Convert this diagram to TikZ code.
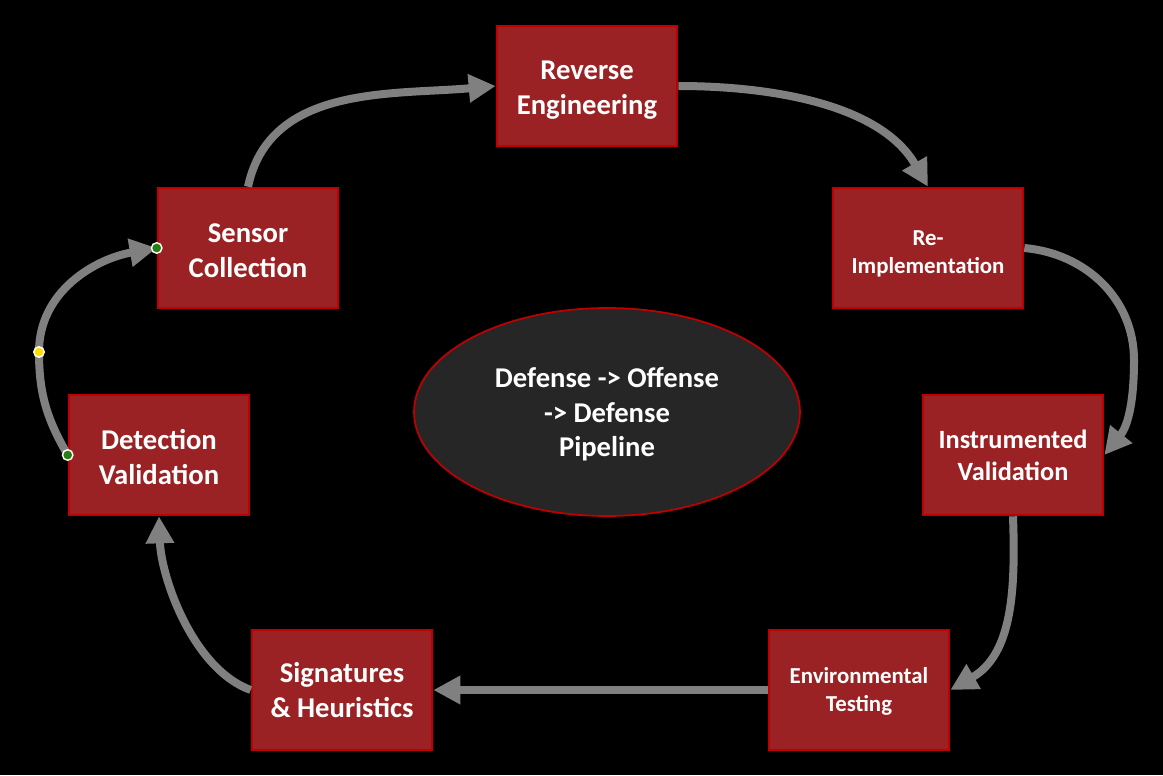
\documentclass[tikz,border=0pt]{standalone}
\usepackage{fontspec}
\setmainfont{Carlito}
\usetikzlibrary{arrows.meta,shapes.geometric}

\definecolor{boxred}{RGB}{155,34,36}
\definecolor{edgered}{RGB}{192,0,0}
\definecolor{flowgray}{RGB}{128,128,128}
\definecolor{pipegray}{RGB}{38,38,38}
\definecolor{handlegreen}{RGB}{40,125,20}
\definecolor{handleyellow}{RGB}{255,221,0}

\begin{document}
\begin{tikzpicture}[
  x=0.02cm, y=0.02cm,
  stage/.style={draw=edgered, fill=boxred, line width=1.5pt, rectangle,
                minimum width=3.6cm, minimum height=2.4cm, align=center,
                text=white, inner sep=2pt,
                font=\fontsize{16.3}{19.8}\selectfont\bfseries},
  midtxt/.style={font=\fontsize{15}{18.1}\selectfont\bfseries},
  smalltxt/.style={font=\fontsize{13}{15.9}\selectfont\bfseries},
  pipe/.style={ellipse, draw=edgered, fill=pipegray, line width=1pt,
               minimum width=7.72cm, minimum height=4.16cm, align=center,
               text=white, font=\fontsize{16.3}{19.8}\selectfont\bfseries},
  flow/.style={-{Triangle[length=0.54cm,width=0.54cm]}, draw=flowgray,
               line width=0.16cm},
  handle/.style={circle, draw=white, line width=0.8pt, inner sep=0pt,
                 minimum size=0.21cm},
]

  % --- Canvas ---
  \fill[black] (0,0) rectangle (1163,-775);
  \useasboundingbox (0,0) rectangle (1163,-775);

  % --- Stages (text nudged down a little) ---
  \node[stage] (re) at (587,-86)  {\rule{0pt}{15pt}Reverse\\Engineering};
  \node[stage] (sc) at (248,-248) {\rule{0pt}{14pt}Sensor\\Collection};
  \node[stage, smalltxt, minimum width=3.8cm] (ri) at (928,-248) {\rule{0pt}{15pt}Re-\\Implementation};
  \node[stage, midtxt] (iv) at (1013,-455) {Instrumented\\Validation};
  \node[stage, smalltxt] (et) at (859,-690) {\rule{0pt}{11pt}Environmental\\Testing};
  \node[stage] (sh) at (342,-690) {Signatures\\\& Heuristics};
  \node[stage] (dv) at (159,-455) {\rule{0pt}{14pt}Detection\\Validation};

  % --- Centre ---
  \node[pipe] (core) at (607,-412) {\rule{0pt}{14pt}Defense -> Offense\\-> Defense\\Pipeline};

  % --- Bends ---
  \coordinate (ribend) at (1134,-360);
  \coordinate (dvbend) at (39,-352);

  % --- Flow ---
  \draw[flow] (sc.north) to[out=78, in=185] (re.west);
  \draw[flow] (re.east) to[out=0, in=120, looseness=0.9] (ri.north);
  \draw[flow] (ri.east) to[out=-5, in=90] (ribend) to[out=-90, in=51] (iv.east);
  \draw[flow] (iv.south) to[out=-88, in=30] (et.east);
  \draw[flow] (et.west) -- (sh.east);
  \draw[flow] (sh.west) to[out=160, in=-88, looseness=0.8] (dv.south);
  \draw[flow] (dv.west) to[out=120, in=-90] (dvbend) to[out=90, in=190] (sc.west);

  % --- Handles ---
  \node[handle, fill=handlegreen] (hdv) at (dv.west) {};
  \node[handle, fill=handlegreen] (hsc) at (sc.west) {};
  \node[handle, fill=handleyellow] (hmid) at (dvbend) {};

\end{tikzpicture}
\end{document}
